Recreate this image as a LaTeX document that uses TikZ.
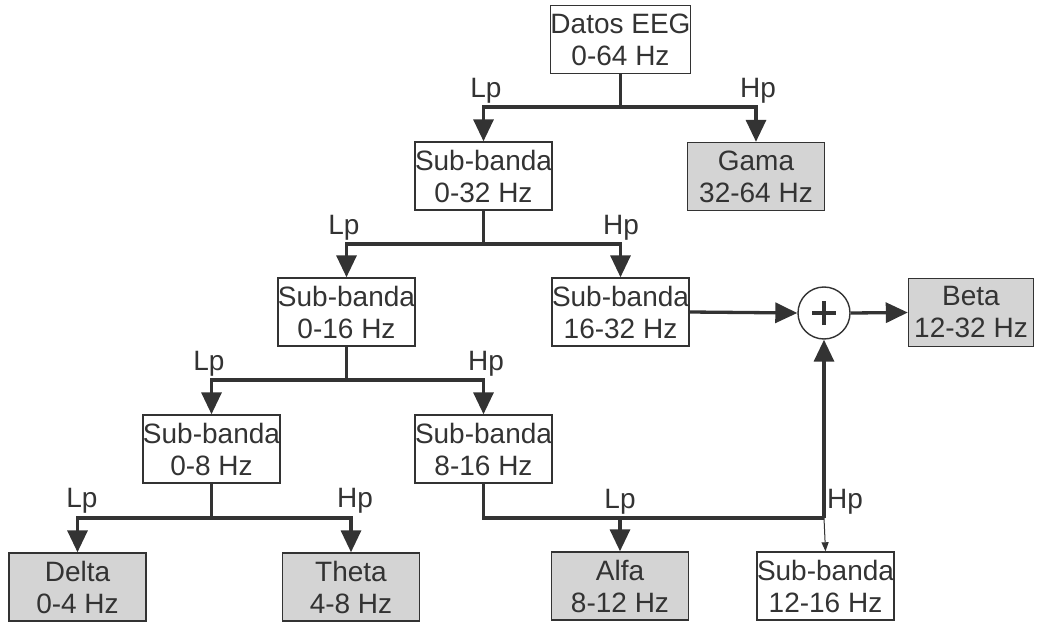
\documentclass[tikz,border=0pt]{standalone}
\usepackage{fontspec}
\setmainfont{Liberation Sans}
\usetikzlibrary{arrows.meta}
\definecolor{ink}{HTML}{333333}
\definecolor{boxgray}{HTML}{D4D4D4}
\begin{document}
\begin{tikzpicture}[x=1pt,y=-1pt,
  box/.style={draw=ink, line width=1.4pt, minimum width=137pt, minimum height=68pt, inner sep=0pt, align=center, text=ink, font=\fontsize{28}{32}\selectfont},
  band/.style={box, fill=boxgray},
  conn/.style={draw=ink, line width=3.3pt},
  arr/.style={conn, -{Triangle[length=22pt,width=20pt]}},
  thinarr/.style={draw=ink, line width=1pt, -{Triangle[length=9pt,width=7pt]}},
  lbl/.style={text=ink, font=\fontsize{28}{32}\selectfont, inner sep=0pt, anchor=base}
]
\useasboundingbox (0,0) rectangle (1037,623);

\node[box]  (datos) at (620.5,39.5) {Datos EEG\\0-64 Hz};
\node[band] (gama)  at (756,176.5) {Gama\\32-64 Hz};
\node[box]  (s032)  at (483.5,176) {Sub-banda\\0-32 Hz};
\node[box]  (s016)  at (346.5,312) {Sub-banda\\0-16 Hz};
\node[box]  (s1632) at (620.5,312) {Sub-banda\\16-32 Hz};
\node[box]  (s08)   at (211.5,449) {Sub-banda\\0-8 Hz};
\node[box]  (s816)  at (483.5,449) {Sub-banda\\8-16 Hz};
\node[band] (delta) at (77.5,587) {Delta\\0-4 Hz};
\node[band] (theta) at (351,587) {Theta\\4-8 Hz};
\node[band] (alfa)  at (620,586) {Alfa\\8-12 Hz};
\node[box]  (s1216) at (825.5,586) {Sub-banda\\12-16 Hz};
\node[band, minimum width=125pt] (beta) at (971,312.5) {Beta\\12-32 Hz};
\node[circle, draw=ink, line width=1.4pt, minimum size=52pt, inner sep=0pt] (sum) at (824,313) {};
\draw[ink, line width=3.3pt] ([xshift=-12pt]sum.center) -- ([xshift=12pt]sum.center)
  ([yshift=-12pt]sum.center) -- ([yshift=12pt]sum.center);

% level 1
\coordinate (j1) at (620.5,107);
\draw[conn] (datos.south) -- (j1);
\draw[arr] (j1) -| (s032.north);
\draw[arr] (j1) -| (gama.north);
\node[lbl] (l1) at (486,98) {Lp};
\node[lbl] (h1) at (758,98) {Hp};

% level 2
\coordinate (j2) at (483.5,244);
\draw[conn] (s032.south) -- (j2);
\draw[arr] (j2) -| (s016.north);
\draw[arr] (j2) -| (s1632.north);
\node[lbl] (l2) at (344,234) {Lp};
\node[lbl] (h2) at (621,234) {Hp};

% level 3
\coordinate (j3) at (346.5,380);
\draw[conn] (s016.south) -- (j3);
\draw[arr] (j3) -| (s08.north);
\draw[arr] (j3) -| (s816.north);
\node[lbl] (l3) at (209,370) {Lp};
\node[lbl] (h3) at (486,370) {Hp};

% level 4
\coordinate (j4) at (211.5,518);
\draw[conn] (s08.south) -- (j4);
\draw[arr] (j4) -| (delta.north);
\draw[arr] (j4) -| (theta.north);
\node[lbl] (l4) at (82,507) {Lp};
\node[lbl] (h4) at (355,507) {Hp};

% 8-16 split
\coordinate (j5) at (824,518);
\coordinate (j6) at (620,518);
\draw[conn] (s816.south) |- (j5);
\draw[arr] (j6) -- (alfa.north);
\draw[arr] (j5) -- (sum.south);
\draw[thinarr] (j5) -- (s1216.north |- s1216.north);
\node[lbl] (l5) at (620,508) {Lp};
\node[lbl] (h5) at (845,508) {Hp};

% sum
\draw[arr] (s1632.east) -- (sum.west);
\draw[arr] (sum.east) -- (beta.west);
\end{tikzpicture}
\end{document}
